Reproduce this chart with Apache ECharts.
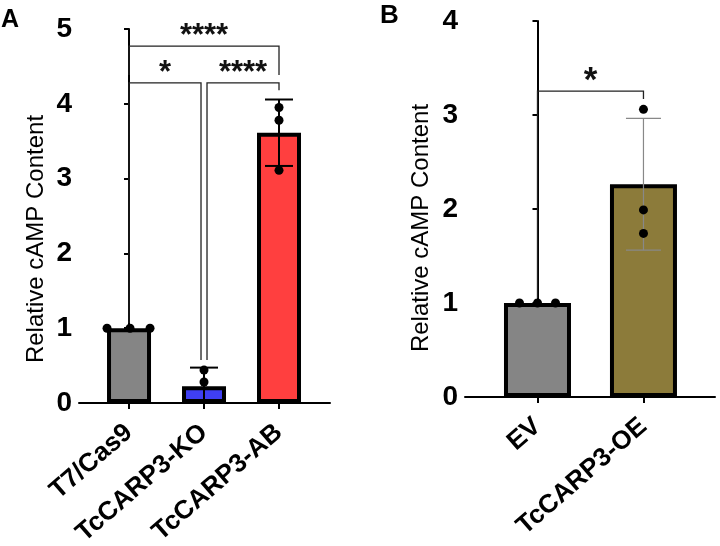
<!DOCTYPE html>
<html><head><meta charset="utf-8">
<script src="https://cdn.jsdelivr.net/npm/echarts@6/dist/echarts.min.js"></script>
<style>html,body{margin:0;padding:0;background:#fff}#c{width:720px;height:546px}</style>
</head><body><div id="c"></div>
<script>
// ---------- data ----------
const catsA = ['T7/Cas9', 'TcCARP3-KO', 'TcCARP3-AB'];
const pointsA = [[1.0, 1.0, 1.0], [0.44, 0.28, -0.05], [3.95, 3.78, 3.11]];
const colorsA = ['#858585', '#3f3ff2', '#ff3f3f'];
const ticksA = [0, 1, 2, 3, 4, 5];

const catsB = ['EV', 'TcCARP3-OE'];
const pointsB = [[1.0, 1.0, 1.0], [3.06, 1.99, 1.74]];
const colorsB = ['#858585', '#8c7b3a'];
const ticksB = [0, 1, 2, 3, 4];

// significance brackets: [xFrom, yFromLeft, xTo, yFromRight, yTop, label]
const bracketsA = [
  [0, 4.385, 2, 4.385, 4.77, '****'],
  [0, 1.07, 0.96, 0.575, 4.28, '*'],
  [1.04, 0.575, 2, 4.18, 4.28, '****']
];
const bracketsB = [
  [0, 1.053, 1, 3.17, 3.255, '*']
];

// ---------- helpers ----------
function mean(a){return a.reduce((s,v)=>s+v,0)/a.length;}
function sd(a){const m=mean(a);return Math.sqrt(a.reduce((s,v)=>s+(v-m)*(v-m),0)/(a.length-1));}

// layout-only horizontal spread of tied points (pixels)
const spreadA = [[-22, 1, 21], [0, 0, 0], [0, 0, 0]];
const spreadB = [[-18, 0, 18], [0, 0, 0]];

const FONT = 'Liberation Sans, Arial, sans-serif';

function buildPanel(idx, cats, pts, colors, ticks, brackets, spread, cfg){
  const means = pts.map(mean), sds = pts.map(sd);
  const series = [];
  series.push({
    type: 'bar', xAxisIndex: idx, yAxisIndex: idx, barWidth: cfg.barWidth, z: 2,
    data: means.map((m,i)=>({value:[i,m], itemStyle:{color:colors[i], borderColor:'#000', borderWidth:4}})),
    silent: true
  });
  // error bars
  series.push({
    type: 'custom', xAxisIndex: idx, yAxisIndex: idx, z: 3, clip: true, silent: true,
    data: means.map((m,i)=>[i, m - sds[i], m + sds[i]]),
    renderItem: function(params, api){
      const x = api.value(0);
      const lo = api.coord([x, api.value(1)]);
      const hi = api.coord([x, api.value(2)]);
      if (Math.abs(hi[1]-lo[1]) < 0.5) return null;
      const w = cfg.capHalf;
      const st = {stroke: cfg.errColor, lineWidth: cfg.errWidth};
      return {type:'group', children:[
        {type:'line', shape:{x1:lo[0], y1:lo[1], x2:hi[0], y2:hi[1]}, style:st},
        {type:'line', shape:{x1:hi[0]-w, y1:hi[1], x2:hi[0]+w, y2:hi[1]}, style:st},
        {type:'line', shape:{x1:lo[0]-w, y1:lo[1], x2:lo[0]+w, y2:lo[1]}, style:st}
      ]};
    }
  });
  // points
  const pdata = [];
  pts.forEach((arr,i)=>arr.forEach((v,j)=>pdata.push([i, v, spread[i][j]])));
  series.push({
    type: 'custom', xAxisIndex: idx, yAxisIndex: idx, z: 4, clip: true, silent: true,
    data: pdata,
    renderItem: function(params, api){
      const c = api.coord([api.value(0), api.value(1)]);
      if (api.value(1) < 0) return null;
      return {type:'circle', shape:{cx:c[0]+api.value(2), cy:c[1], r:cfg.dotR}, style:{fill:'#000'}};
    }
  });
  // brackets
  series.push({
    type: 'custom', xAxisIndex: idx, yAxisIndex: idx, z: 5, silent: true,
    data: brackets.map(b=>b.slice(0,5)),
    renderItem: function(params, api){
      const a = api.coord([api.value(0), api.value(1)]);
      const b = api.coord([api.value(0), api.value(4)]);
      const c = api.coord([api.value(2), api.value(4)]);
      const d = api.coord([api.value(2), api.value(3)]);
      return {type:'polyline', shape:{points:[a,b,c,d]}, style:{stroke:'#222', lineWidth:1.3, fill:null}};
    }
  });
  // stars
  series.push({
    type: 'custom', xAxisIndex: idx, yAxisIndex: idx, z: 6, silent: true,
    data: brackets.map(b=>[(b[0]+b[2])/2, b[4]]),
    renderItem: function(params, api){
      const p = api.coord([api.value(0), api.value(1)]);
      return {type:'text', x:p[0], y:p[1]+cfg.starDy, style:{text: brackets[params.dataIndex][5], fontSize: cfg.starSize, fontWeight:'bold', fontFamily: FONT, fill:'#111', align:'center', verticalAlign:'bottom'}};
    }
  });
  return series;
}

const cfgA = {barWidth:44, capHalf:14, errColor:'#000', errWidth:2, dotR:4.5, starSize:31, starDy:6};
const cfgB = {barWidth:67, capHalf:17.5, errColor:'#888', errWidth:1.2, dotR:4.5, starSize:35, starDy:8};

function xAxis(idx, cats, min, max){
  return {
    type:'value', gridIndex: idx, min: min, max: max,
    splitLine:{show:false},
    axisLine:{show:true, onZero:false, lineStyle:{color:'#000', width:2}},
    axisTick:{show:true, customValues: cats.map((c,i)=>i), length:6, lineStyle:{color:'#000', width:2}},
    axisLabel:{customValues: cats.map((c,i)=>i), formatter: v => cats[Math.round(v)] || '', rotate: 41, margin: 26,
      padding: [13, 0, 0, 0],
      fontSize: 26, fontWeight:'bold', fontFamily: FONT, color:'#000'}
  };
}
function yAxis(idx, ticks, gap, shift){
  return {
    type:'value', gridIndex: idx, min: ticks[0], max: ticks[ticks.length-1], interval: 1,
    splitLine:{show:false},
    axisLine:{show:true, lineStyle:{color:'#000', width:2}},
    axisTick:{show:true, length:5, lineStyle:{color:'#000', width:2}},
    axisLabel:{fontSize: 28, fontWeight:'bold', fontFamily: FONT, color:'#000', margin: 7},
    name:'Relative cAMP Content', nameLocation:'middle', nameGap: gap, nameRotate: 90,
    nameTextStyle:{fontSize: 24, fontFamily: FONT, color:'#000', padding:[0, shift, 0, 0]}
  };
}

const chart = echarts.init(document.getElementById('c'), null, {renderer:'canvas'});
chart.setOption({
  animation: false,
  backgroundColor: '#fff',
  grid: [
    {left: 79, top: 29, width: 251, height: 374, containLabel: false, outerBoundsMode: 'none'},
    {left: 465, top: 21, width: 250, height: 376, containLabel: false, outerBoundsMode: 'none'}
  ],
  xAxis: [xAxis(0, catsA, -0.667, 2.68), xAxis(1, catsB, -0.684, 1.675)],
  yAxis: [yAxis(0, ticksA, 31, 46), yAxis(1, ticksB, 32, 38)],
  graphic: [
    {type:'text', left: 1, top: 8, style:{text:'A', fontSize: 25, fontWeight:'bold', fontFamily: FONT, fill:'#000'}},
    {type:'text', left: 380, top: 3, style:{text:'B', fontSize: 26, fontWeight:'bold', fontFamily: FONT, fill:'#000'}}
  ],
  series: [].concat(
    buildPanel(0, catsA, pointsA, colorsA, ticksA, bracketsA, spreadA, cfgA),
    buildPanel(1, catsB, pointsB, colorsB, ticksB, bracketsB, spreadB, cfgB)
  )
});
</script></body></html>
